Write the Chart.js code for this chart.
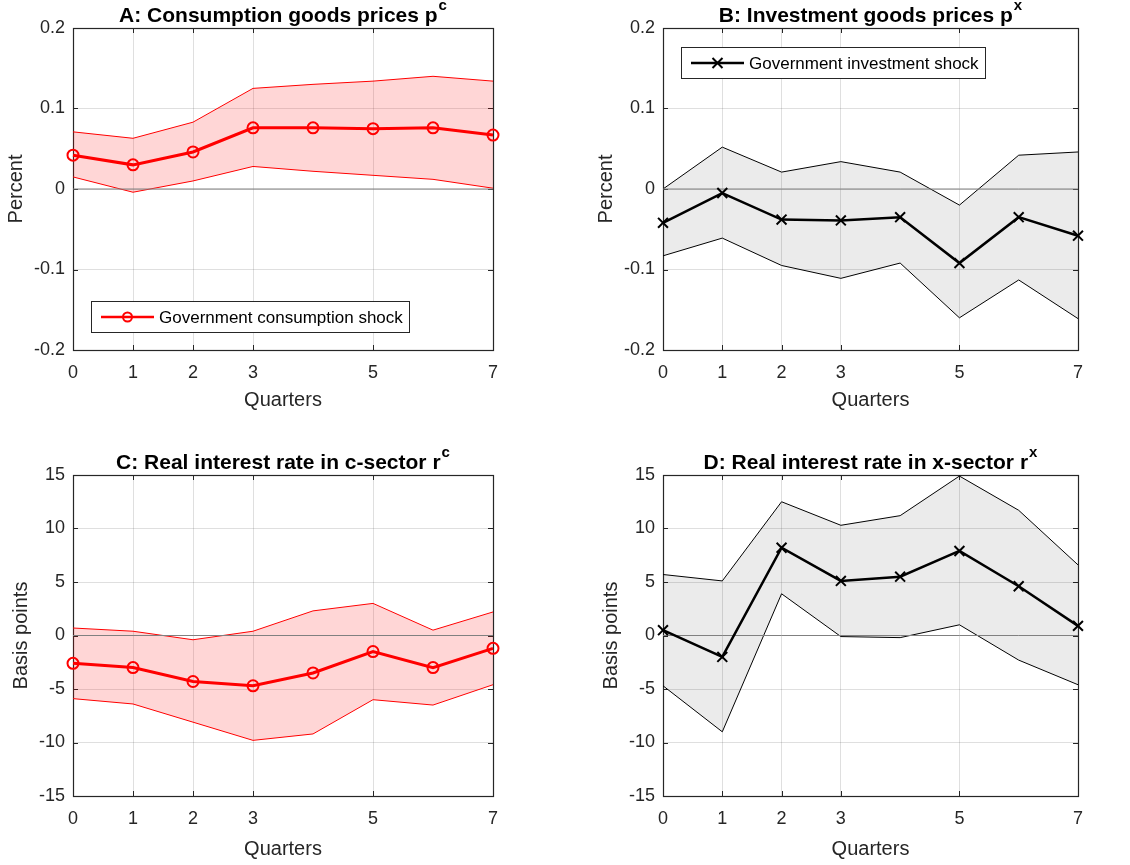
<!DOCTYPE html>
<html><head><meta charset="utf-8">
<script src="https://cdn.jsdelivr.net/npm/chart.js@4"></script>
<style>
html,body{margin:0;padding:0;background:#fff;}
#wrap{position:relative;width:1130px;height:865px;overflow:hidden;}
canvas{position:absolute;}
</style></head>
<body><div id="wrap">
<canvas id="cA" width="565" height="430" style="left:0;top:0"></canvas>
<canvas id="cB" width="565" height="430" style="left:565px;top:0"></canvas>
<canvas id="cC" width="565" height="435" style="left:0;top:430px"></canvas>
<canvas id="cD" width="565" height="435" style="left:565px;top:430px"></canvas>
</div>
<script>
// ---------- data ----------
const quarters = [0,1,2,3,4,5,6,7];
const quarterTicks = [0,1,2,3,5,7];
const priceTicks = [-0.2,-0.1,0,0.1,0.2];
const rateTicks = [-15,-10,-5,0,5,10,15];
const zeroLine = [0,0,0,0,0,0,0,0];

const pcMean  = [0.042,0.030,0.046,0.076,0.076,0.075,0.076,0.067];
const pcUpper = [0.071,0.063,0.083,0.125,0.130,0.134,0.140,0.134];
const pcLower = [0.015,-0.004,0.010,0.028,0.022,0.017,0.012,0.001];

const pxMean  = [-0.042,-0.005,-0.038,-0.039,-0.035,-0.092,-0.035,-0.058];
const pxUpper = [0.000,0.052,0.021,0.034,0.021,-0.020,0.042,0.046];
const pxLower = [-0.083,-0.061,-0.095,-0.111,-0.092,-0.160,-0.113,-0.161];

const rcMean  = [-2.6,-3.0,-4.3,-4.7,-3.5,-1.5,-3.0,-1.2];
const rcUpper = [0.7,0.4,-0.4,0.4,2.3,3.0,0.5,2.2];
const rcLower = [-5.9,-6.4,-8.1,-9.8,-9.2,-6.0,-6.5,-4.6];

const rxMean  = [0.5,-2.0,8.2,5.1,5.5,7.9,4.6,0.9];
const rxUpper = [5.7,5.1,12.5,10.3,11.2,14.9,11.7,6.6];
const rxLower = [-4.7,-9.0,3.9,-0.1,-0.2,1.0,-2.3,-4.6];

const titleA = ['A: Consumption goods prices p', 'c'];
const titleB = ['B: Investment goods prices p', 'x'];
const titleC = ['C: Real interest rate in c-sector r', 'c'];
const titleD = ['D: Real interest rate in x-sector r', 'x'];
const legendC = 'Government consumption shock';
const legendX = 'Government investment shock';

// ---------- styling ----------
const FONT = "'Liberation Sans', Arial, Helvetica, sans-serif";
const AX = '#262626';
const RED = '#ff0000';

function pts(arr){ return quarters.map((q,i)=>({x:q,y:arr[i]})); }

const boxPlugin = {
  id:'boxPlugin',
  beforeDatasetsDraw(chart){
    const {ctx, chartArea:a, scales} = chart;
    ctx.save();
    ctx.strokeStyle = AX; ctx.lineWidth = 1;
    const tl = 5;
    ctx.beginPath();
    scales.x.ticks.forEach(t=>{
      const x = Math.round(scales.x.getPixelForValue(t.value))+0.5;
      ctx.moveTo(x, a.bottom); ctx.lineTo(x, a.bottom - tl);
      ctx.moveTo(x, a.top); ctx.lineTo(x, a.top + tl);
    });
    scales.y.ticks.forEach(t=>{
      const y = Math.round(scales.y.getPixelForValue(t.value))+0.5;
      ctx.moveTo(a.left, y); ctx.lineTo(a.left + tl, y);
      ctx.moveTo(a.right, y); ctx.lineTo(a.right - tl, y);
    });
    ctx.stroke();
    ctx.lineWidth = 1.2;
    ctx.strokeRect(Math.round(a.left)+0.5, Math.round(a.top)+0.5, Math.round(a.right-a.left), Math.round(a.bottom-a.top));
    ctx.restore();
  },
  afterDatasetsDraw(chart){
    const o = chart.options.plugins.boxPlugin;
    const {ctx, chartArea:a} = chart;
    if (o.legend){
      const L = o.legend;
      ctx.save();
      ctx.font = '17px ' + FONT;
      const tw = ctx.measureText(L.text).width;
      const w = 68 + tw + 6, h = 31;
      const left = a.left + 18;
      const top = L.pos === 'bottom' ? a.bottom - 18 - h : a.top + 19;
      ctx.fillStyle = '#fff';
      ctx.fillRect(left, top, w, h);
      ctx.strokeStyle = AX; ctx.lineWidth = 1;
      ctx.strokeRect(Math.round(left)+0.5, Math.round(top)+0.5, Math.round(w), h);
      const cy = top + h/2 + 0.5;
      ctx.strokeStyle = L.color; ctx.lineWidth = 2.5;
      ctx.beginPath(); ctx.moveTo(left+10, cy); ctx.lineTo(left+63, cy); ctx.stroke();
      ctx.lineWidth = 2;
      const mx = left + 36.5;
      ctx.beginPath();
      if (L.marker === 'circle'){
        ctx.arc(mx, cy, 4.5, 0, Math.PI*2);
      } else {
        const r = 5;
        ctx.moveTo(mx-r, cy-r); ctx.lineTo(mx+r, cy+r);
        ctx.moveTo(mx+r, cy-r); ctx.lineTo(mx-r, cy+r);
      }
      ctx.stroke();
      ctx.fillStyle = '#000';
      ctx.textBaseline = 'middle'; ctx.textAlign = 'left';
      ctx.fillText(L.text, left + 68, cy + 1);
      ctx.restore();
    }
  },
  afterDraw(chart){
    const o = chart.options.plugins.boxPlugin;
    const {ctx, chartArea:a} = chart;
    ctx.save();
    ctx.fillStyle = '#000';
    ctx.textBaseline = 'alphabetic'; ctx.textAlign = 'left';
    ctx.font = 'bold 21px ' + FONT;
    const w1 = ctx.measureText(o.title[0]).width;
    ctx.font = 'bold 15px ' + FONT;
    const w2 = ctx.measureText(o.title[1]).width;
    const cx = (a.left + a.right)/2;
    const x0 = cx - (w1 + w2 + 1)/2;
    ctx.font = 'bold 21px ' + FONT;
    ctx.fillText(o.title[0], x0, o.titleY);
    ctx.font = 'bold 15px ' + FONT;
    ctx.fillText(o.title[1], x0 + w1 + 1, o.titleY - 12);
    ctx.restore();
  }
};

function makePanel(id, spec){
  const isRed = spec.color === 'red';
  const lineCol = isRed ? RED : '#000';
  const fillCol = isRed ? 'rgba(255,0,0,0.16)' : 'rgba(0,0,0,0.08)';
  const datasets = [
    {data: pts(spec.upper), borderColor: lineCol, borderWidth: 1, pointRadius: 0,
     fill: {target: 1}, backgroundColor: fillCol, tension: 0, order: 3},
    {data: pts(spec.lower), borderColor: lineCol, borderWidth: 1, pointRadius: 0,
     fill: false, tension: 0, order: 3},
    {data: pts(zeroLine), borderColor: '#808080', borderWidth: 1, pointRadius: 0,
     fill: false, order: 2},
    {data: pts(spec.mean), borderColor: lineCol, borderWidth: isRed ? 3 : 2.5,
     pointStyle: isRed ? 'circle' : 'crossRot', pointRadius: isRed ? 5.5 : 7,
     pointBorderWidth: 2, pointBorderColor: lineCol, pointBackgroundColor: 'rgba(0,0,0,0)',
     pointHoverRadius: 0, fill: false, clip: false, tension: 0, order: 1}
  ];
  return new Chart(document.getElementById(id), {
    type: 'line',
    data: {datasets},
    plugins: [boxPlugin],
    options: {
      responsive: false, animation: false, events: [],
      layout: {padding: {left: 0, right: spec.padRight, top: spec.padTop, bottom: 0}},
      plugins: {
        legend: {display: false}, tooltip: {enabled: false}, title: {display: false},
        boxPlugin: {title: spec.title, titleY: spec.titleY, legend: spec.legend}
      },
      scales: {
        x: {
          type: 'linear', min: 0, max: 7,
          afterBuildTicks: s => { s.ticks = quarterTicks.map(v=>({value:v})); },
          afterFit: s => { s.height = spec.xHeight; },
          ticks: {autoSkip: false, maxRotation: 0, padding: 12, color: AX,
                  font: {family: FONT, size: 18}, callback: v => String(v)},
          grid: {color: 'rgba(38,38,38,0.15)', lineWidth: 1, drawTicks: false},
          border: {display: false},
          title: {display: true, text: 'Quarters', color: AX,
                  font: {family: FONT, size: 20}, padding: {top: 0, bottom: spec.xTitlePad}}
        },
        y: {
          type: 'linear', min: spec.yTicks[0], max: spec.yTicks[spec.yTicks.length-1],
          afterBuildTicks: s => { s.ticks = spec.yTicks.map(v=>({value:v})); },
          afterFit: s => { s.width = spec.yWidth; },
          ticks: {padding: 8, color: AX, font: {family: FONT, size: 18},
                  callback: v => String(v)},
          grid: {color: 'rgba(38,38,38,0.15)', lineWidth: 1, drawTicks: false},
          border: {display: false},
          title: {display: true, text: spec.yLabel, color: AX,
                  font: {family: FONT, size: 20}, padding: {top: spec.yTitlePad, bottom: 0}}
        }
      }
    }
  });
}

makePanel('cA', {color:'red', mean: pcMean, upper: pcUpper, lower: pcLower, yTicks: priceTicks,
  yLabel: 'Percent', title: titleA, titleY: 22, padTop: 28, padRight: 72, yWidth: 73, xHeight: 80,
  xTitlePad: 18, yTitlePad: 4, legend: {text: legendC, color: RED, marker: 'circle', pos: 'bottom'}});
makePanel('cB', {color:'black', mean: pxMean, upper: pxUpper, lower: pxLower, yTicks: priceTicks,
  yLabel: 'Percent', title: titleB, titleY: 22, padTop: 28, padRight: 52, yWidth: 98, xHeight: 80,
  xTitlePad: 18, yTitlePad: 29, legend: {text: legendX, color: '#000', marker: 'cross', pos: 'top'}});
makePanel('cC', {color:'red', mean: rcMean, upper: rcUpper, lower: rcLower, yTicks: rateTicks,
  yLabel: 'Basis points', title: titleC, titleY: 39, padTop: 45, padRight: 72, yWidth: 73, xHeight: 69,
  xTitlePad: 4, yTitlePad: 9.5, legend: null});
makePanel('cD', {color:'black', mean: rxMean, upper: rxUpper, lower: rxLower, yTicks: rateTicks,
  yLabel: 'Basis points', title: titleD, titleY: 39, padTop: 45, padRight: 52, yWidth: 98, xHeight: 69,
  xTitlePad: 4, yTitlePad: 34, legend: null});
</script>
</body></html>
